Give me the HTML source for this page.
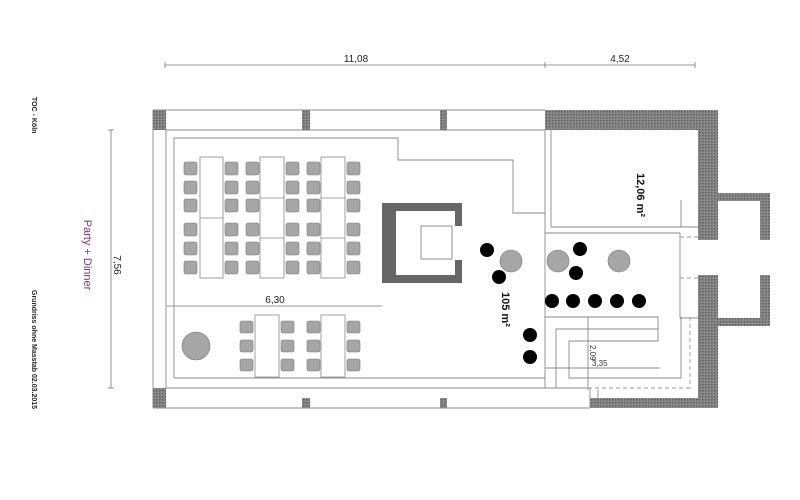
<!DOCTYPE html>
<html><head><meta charset="utf-8"><style>body{margin:0;background:#fff}svg{display:block}</style></head>
<body>
<svg width="800" height="500" viewBox="0 0 800 500" xmlns="http://www.w3.org/2000/svg" font-family="Liberation Sans, sans-serif">
<defs>
<pattern id="h" width="3" height="3" patternUnits="userSpaceOnUse"><rect width="3" height="3" fill="#8a8a8a"/><rect width="1.5" height="1.5" fill="#5e5e5e"/></pattern>
<g id="col">
<rect x="0" y="162" width="13" height="13" rx="2"/><rect x="0" y="181" width="13" height="13" rx="2"/><rect x="0" y="199" width="13" height="13" rx="2"/><rect x="0" y="223" width="13" height="13" rx="2"/><rect x="0" y="242" width="13" height="13" rx="2"/><rect x="0" y="261" width="13" height="13" rx="2"/>
</g>
<g id="col2">
<rect x="0" y="321" width="13" height="12" rx="2"/><rect x="0" y="340" width="13" height="12" rx="2"/><rect x="0" y="359" width="13" height="12" rx="2"/>
</g>
</defs>
<g stroke="#777" stroke-width="0.8" fill="none">
<line x1="165" y1="65" x2="695" y2="65"/>
<line x1="165" y1="62" x2="165" y2="68"/><line x1="545" y1="62" x2="545" y2="68"/><line x1="695" y1="62" x2="695" y2="68"/>
<line x1="111" y1="130" x2="111" y2="388"/>
<line x1="108" y1="130" x2="114" y2="130"/><line x1="108" y1="388" x2="114" y2="388"/>
<line x1="167" y1="306" x2="382" y2="306"/>
</g>
<g font-size="10" fill="#222" text-anchor="middle">
<text x="356" y="62">11,08</text><text x="620" y="62">4,52</text>
<text x="275" y="303">6,30</text>
<text transform="translate(114,265) rotate(90)">7,56</text>
</g>
<text transform="translate(84,255) rotate(90)" font-size="11" fill="#8a2a8a" text-anchor="middle">Party + Dinner</text>
<text transform="translate(32,97) rotate(90)" font-size="7" font-weight="bold" fill="#222">TOC - Köln</text>
<text transform="translate(32,290) rotate(90)" font-size="7" font-weight="bold" fill="#222">Grundriss ohne Masstab  02.03.2015</text>
<g stroke="#888" stroke-width="0.9" fill="none">
<line x1="153" y1="110" x2="545" y2="110"/>
<line x1="166" y1="130" x2="545" y2="130"/>
<line x1="153" y1="110" x2="153" y2="408"/>
<line x1="166" y1="130" x2="166" y2="388"/>
<polyline points="174,378 174,138 398,138 398,160 513,160 513,213 545,213"/>
<line x1="174" y1="378" x2="545" y2="378"/>
<line x1="166" y1="388" x2="590" y2="388"/>
<line x1="153" y1="408" x2="590" y2="408"/>
<line x1="590" y1="388" x2="590" y2="408"/>
<line x1="545" y1="130" x2="545" y2="388"/>
<line x1="551" y1="130" x2="551" y2="227"/>
<line x1="551" y1="227" x2="698" y2="227"/>
<line x1="545" y1="233" x2="680" y2="233"/>
<line x1="680" y1="233" x2="680" y2="318"/>
<line x1="681" y1="200" x2="681" y2="227"/>
<line x1="680" y1="318" x2="698" y2="318"/>
<polyline points="545,317 658,317 658,341 569,341 569,378 681,378 681,317"/>
<polyline points="556,388 556,329 658,329"/>
<line x1="588" y1="317" x2="588" y2="390"/>
<line x1="545" y1="368" x2="660" y2="368"/>
<line x1="598" y1="390" x2="598" y2="398"/>
</g>
<g stroke="#999" stroke-width="0.9" fill="none" stroke-dasharray="4,3">
<line x1="545" y1="233" x2="545" y2="310"/>
<line x1="690" y1="317" x2="690" y2="388"/>
<line x1="588" y1="388" x2="690" y2="388"/>
<line x1="680" y1="237" x2="698" y2="237"/>
<line x1="680" y1="278" x2="698" y2="278"/>
</g>
<g fill="url(#h)">
<rect x="153" y="110" width="13" height="20"/>
<rect x="302" y="110" width="8" height="20"/>
<rect x="440" y="110" width="7" height="20"/>
<rect x="545" y="110" width="173" height="20"/>
<rect x="698" y="110" width="20" height="130"/>
<rect x="698" y="275" width="20" height="133"/>
<rect x="590" y="398" width="128" height="10"/>
<rect x="153" y="388" width="13" height="20"/>
<rect x="302" y="398" width="8" height="10"/>
<rect x="440" y="398" width="7" height="10"/>
<rect x="718" y="193" width="52" height="8"/>
<rect x="760" y="193" width="10" height="47"/>
<rect x="718" y="318" width="52" height="8"/>
<rect x="760" y="275" width="10" height="43"/>
</g>
<rect x="382" y="203" width="80" height="80" fill="#666"/>
<rect x="396" y="211" width="59" height="64" fill="#fff"/>
<rect x="455" y="226" width="7" height="34" fill="#fff"/>
<rect x="421" y="226" width="31" height="33" fill="#fff" stroke="#777" stroke-width="0.8"/>
<g fill="#fff" stroke="#888" stroke-width="0.8">
<rect x="200" y="157" width="23" height="121"/><line x1="200" y1="218" x2="223" y2="218"/>
<rect x="260" y="157" width="24" height="121"/><line x1="260" y1="198" x2="284" y2="198"/><line x1="260" y1="238" x2="284" y2="238"/>
<rect x="321" y="157" width="24" height="121"/><line x1="321" y1="198" x2="345" y2="198"/><line x1="321" y1="238" x2="345" y2="238"/>
<rect x="255" y="315" width="24" height="62"/>
<rect x="321" y="315" width="24" height="62"/>
</g>
<g fill="#a6a6a6" stroke="#777" stroke-width="0.6">
<use href="#col" x="184"/><use href="#col" x="225"/><use href="#col" x="246"/><use href="#col" x="286"/><use href="#col" x="307"/><use href="#col" x="347"/>
<use href="#col2" x="240"/><use href="#col2" x="281"/><use href="#col2" x="307"/><use href="#col2" x="347"/>
<circle cx="196" cy="346" r="14"/>
<circle cx="511" cy="261" r="11"/><circle cx="558" cy="261" r="11"/><circle cx="619" cy="261" r="11"/>
</g>
<g fill="#000">
<circle cx="487" cy="250" r="7"/><circle cx="499" cy="277" r="7"/><circle cx="580" cy="249" r="7"/><circle cx="576" cy="273" r="7"/>
<circle cx="552" cy="301" r="7"/><circle cx="573" cy="301" r="7"/><circle cx="595" cy="301" r="7"/><circle cx="617" cy="301" r="7"/><circle cx="639" cy="301" r="7"/>
<circle cx="530" cy="335" r="7"/><circle cx="530" cy="357" r="7"/>
</g>
<g font-weight="bold" font-size="11" fill="#111">
<text transform="translate(502,292) rotate(90)">105 m²</text>
<text transform="translate(637,173) rotate(90)">12,06 m²</text>
</g>
<g font-size="8" fill="#333">
<text transform="translate(590,345) rotate(90)">2,09</text>
<text x="592" y="366">3,35</text>
</g>
</svg>
</body></html>
